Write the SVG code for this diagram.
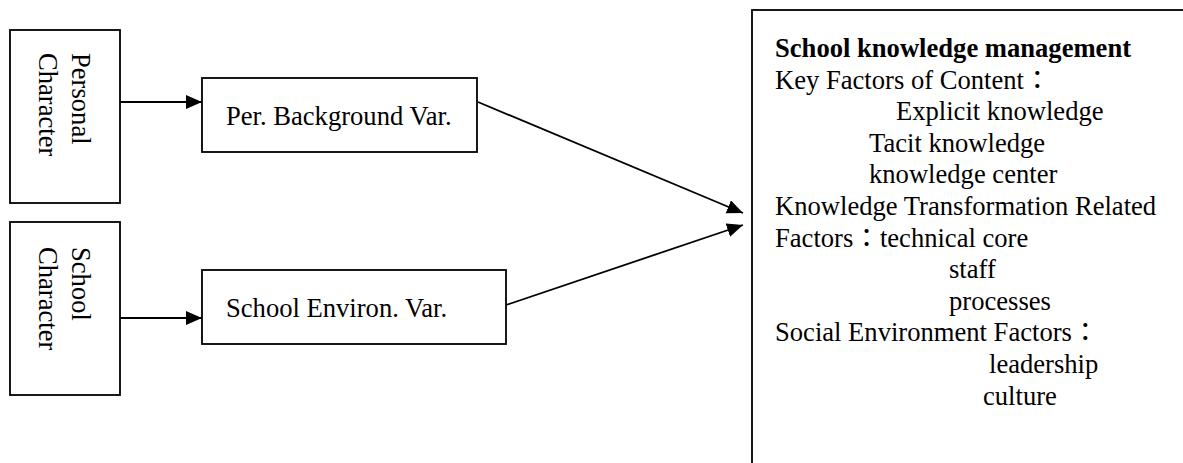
<svg xmlns="http://www.w3.org/2000/svg" width="1183" height="463" viewBox="0 0 1183 463">
<style>
.box{fill:#fff;stroke:#000;stroke-width:1.8}
.t{font-family:"Liberation Serif","Noto Sans CJK TC",serif;font-size:26.6px;fill:#000}
.b{font-weight:bold}
.c{fill:none;stroke:#000;stroke-width:1.8}
</style>
<defs>
<marker id="ah" markerUnits="userSpaceOnUse" markerWidth="17" markerHeight="15" refX="16" refY="7" orient="auto">
<path d="M0,0 L16,7 L0,14 z" fill="#000"/>
</marker>
</defs>
<rect width="1183" height="463" fill="#fff"/>
<g id="personal">
<rect class="box" x="10" y="30" width="110" height="173"/>
<text class="t" transform="translate(72,53) rotate(90)">Personal</text>
<text class="t" transform="translate(39,53) rotate(90)">Character</text>
</g>
<g id="school">
<rect class="box" x="10" y="222" width="110" height="173"/>
<text class="t" transform="translate(72,247) rotate(90)">School</text>
<text class="t" transform="translate(39,247) rotate(90)">Character</text>
</g>
<g id="perbg">
<rect class="box" x="202" y="78" width="275" height="74"/>
<text class="t" x="226" y="125">Per. Background Var.</text>
</g>
<g id="schenv">
<rect class="box" x="202" y="270" width="304" height="74"/>
<text class="t" x="226" y="317">School Environ. Var.</text>
</g>
<g id="skm">
<rect class="box" x="752" y="10" width="450" height="480"/>
<text class="t b" x="775" y="57">School knowledge management</text>
<text class="t" x="775" y="88.6">Key Factors of Content：</text>
<text class="t" x="896" y="120.2">Explicit knowledge</text>
<text class="t" x="869" y="151.8">Tacit knowledge</text>
<text class="t" x="869" y="183.4">knowledge center</text>
<text class="t" x="775" y="215">Knowledge Transformation Related</text>
<text class="t" x="775" y="246.6">Factors：technical core</text>
<text class="t" x="949" y="278.2">staff</text>
<text class="t" x="949" y="309.8">processes</text>
<text class="t" x="775" y="341.4">Social Environment Factors：</text>
<text class="t" x="989" y="373">leadership</text>
<text class="t" x="983" y="404.6">culture</text>
</g>
<g id="connectors">
<line class="c" x1="120" y1="102" x2="202" y2="102" marker-end="url(#ah)"/>
<line class="c" x1="120" y1="318" x2="202" y2="318" marker-end="url(#ah)"/>
<line class="c" x1="478" y1="102" x2="743" y2="213" marker-end="url(#ah)"/>
<line class="c" x1="506" y1="305" x2="743" y2="225" marker-end="url(#ah)"/>
</g>
</svg>
